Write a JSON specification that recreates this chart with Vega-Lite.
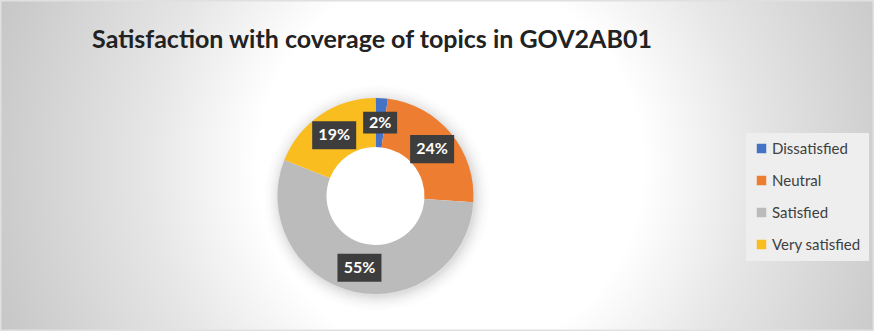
{
  "$schema": "https://vega.github.io/schema/vega-lite/v6.json",
  "width": 874,
  "height": 331,
  "padding": 0,
  "autosize": "none",
  "background": "#cccccc",
  "config": {"view": {"stroke": null}, "font": "Lato"},
  "title": {
    "text": "Satisfaction with coverage of topics in GOV2AB01",
    "font": "Lato",
    "fontSize": 25,
    "fontWeight": "bold",
    "color": "#222222",
    "anchor": "middle",
    "frame": "group",
    "dx": -65,
    "dy": 58
  },
  "data": {
    "values": [
      {"category": "Dissatisfied", "value": 2, "label": "2%", "order": 1},
      {"category": "Neutral", "value": 24, "label": "24%", "order": 2},
      {"category": "Satisfied", "value": 55, "label": "55%", "order": 3},
      {"category": "Very satisfied", "value": 19, "label": "19%", "order": 4}
    ]
  },
  "resolve": {"scale": {"theta": "independent"}},
  "layer": [
    {
      "description": "chart area background: soft radial gradient",
      "data": {"values": [{}]},
      "mark": {
        "type": "rect",
        "stroke": "#e0e0e0",
        "strokeWidth": 3,
        "fill": {
          "gradient": "radial",
          "x1": 0.515, "y1": 0.5, "r1": 0,
          "x2": 0.515, "y2": 0.5, "r2": 0.55,
          "stops": [
            {"offset": 0, "color": "#ffffff"},
            {"offset": 0.4, "color": "#ffffff"},
            {"offset": 0.63, "color": "#e6e6e6"},
            {"offset": 0.94, "color": "#cbcbcb"},
            {"offset": 1, "color": "#c6c6c6"}
          ]
        }
      },
      "encoding": {}
    },
    {
      "description": "soft shadow round the ring, as thin fading bands",
      "data": {"values": [{"v": 1}]},
      "encoding": {"theta": {"field": "v", "type": "quantitative", "stack": true}},
      "layer": [
        {"mark": {"type": "arc", "innerRadius": 95, "outerRadius": 99, "x": 377, "y": 198, "fill": "#000000", "fillOpacity": 0.13}},
        {"mark": {"type": "arc", "innerRadius": 99, "outerRadius": 101, "x": 377, "y": 198, "fill": "#000000", "fillOpacity": 0.1}},
        {"mark": {"type": "arc", "innerRadius": 101, "outerRadius": 103, "x": 377, "y": 198, "fill": "#000000", "fillOpacity": 0.075}},
        {"mark": {"type": "arc", "innerRadius": 103, "outerRadius": 105, "x": 377, "y": 198, "fill": "#000000", "fillOpacity": 0.055}},
        {"mark": {"type": "arc", "innerRadius": 105, "outerRadius": 107, "x": 377, "y": 198, "fill": "#000000", "fillOpacity": 0.038}},
        {"mark": {"type": "arc", "innerRadius": 107, "outerRadius": 109, "x": 377, "y": 198, "fill": "#000000", "fillOpacity": 0.025}},
        {"mark": {"type": "arc", "innerRadius": 109, "outerRadius": 111, "x": 377, "y": 198, "fill": "#000000", "fillOpacity": 0.015}},
        {"mark": {"type": "arc", "innerRadius": 111, "outerRadius": 113, "x": 377, "y": 198, "fill": "#000000", "fillOpacity": 0.007}}
      ]
    },
    {
      "mark": {"type": "arc", "innerRadius": 49, "outerRadius": 98, "x": 375.5, "y": 196},
      "encoding": {
        "theta": {"field": "value", "type": "quantitative", "stack": true},
        "order": {"field": "order", "type": "quantitative"},
        "color": {
          "field": "category",
          "type": "nominal",
          "sort": ["Dissatisfied", "Neutral", "Satisfied", "Very satisfied"],
          "scale": {
            "domain": ["Dissatisfied", "Neutral", "Satisfied", "Very satisfied"],
            "range": ["#4472c4", "#ed7d31", "#bbbbbb", "#f9bd1f"]
          },
          "legend": {
            "title": null,
            "orient": "none",
            "legendX": 746,
            "legendY": 133,
            "fillColor": "#eeeeee",
            "padding": 8,
            "symbolType": "square",
            "symbolSize": 90,
            "symbolStrokeWidth": 0,
            "labelFont": "Lato",
            "labelFontSize": 15,
            "labelColor": "#404040",
            "labelOffset": 3,
            "rowPadding": 16
          }
        }
      }
    },
    {
      "description": "data labels at the middle of each segment",
      "transform": [
        {
          "window": [{"op": "sum", "field": "value", "as": "cum"}],
          "sort": [{"field": "order"}],
          "frame": [null, 0]
        },
        {"calculate": "2 * PI * (datum.cum - datum.value / 2) / 100", "as": "ang"},
        {"calculate": "sin(datum.ang)", "as": "bx"},
        {"calculate": "cos(datum.ang)", "as": "by"}
      ],
      "encoding": {
        "x": {"field": "bx", "type": "quantitative", "scale": {"domain": [-1, 1], "range": [302, 449]}, "axis": null},
        "y": {"field": "by", "type": "quantitative", "scale": {"domain": [-1, 1], "range": [269.5, 122.5]}, "axis": null}
      },
      "layer": [
        {
          "mark": {
            "type": "point",
            "shape": "M-1,-0.64H1V0.64H-1Z",
            "filled": true,
            "fill": "#3d3d3d",
            "opacity": 1,
            "strokeWidth": 0
          },
          "encoding": {
            "size": {"condition": {"test": "datum.value < 10", "value": 1156}, "value": 1936}
          }
        },
        {
          "mark": {
            "type": "text",
            "font": "Lato",
            "fontSize": 16,
            "fontWeight": "bold",
            "color": "#ffffff",
            "align": "center",
            "baseline": "middle"
          },
          "encoding": {"text": {"field": "label"}}
        }
      ]
    }
  ]
}
